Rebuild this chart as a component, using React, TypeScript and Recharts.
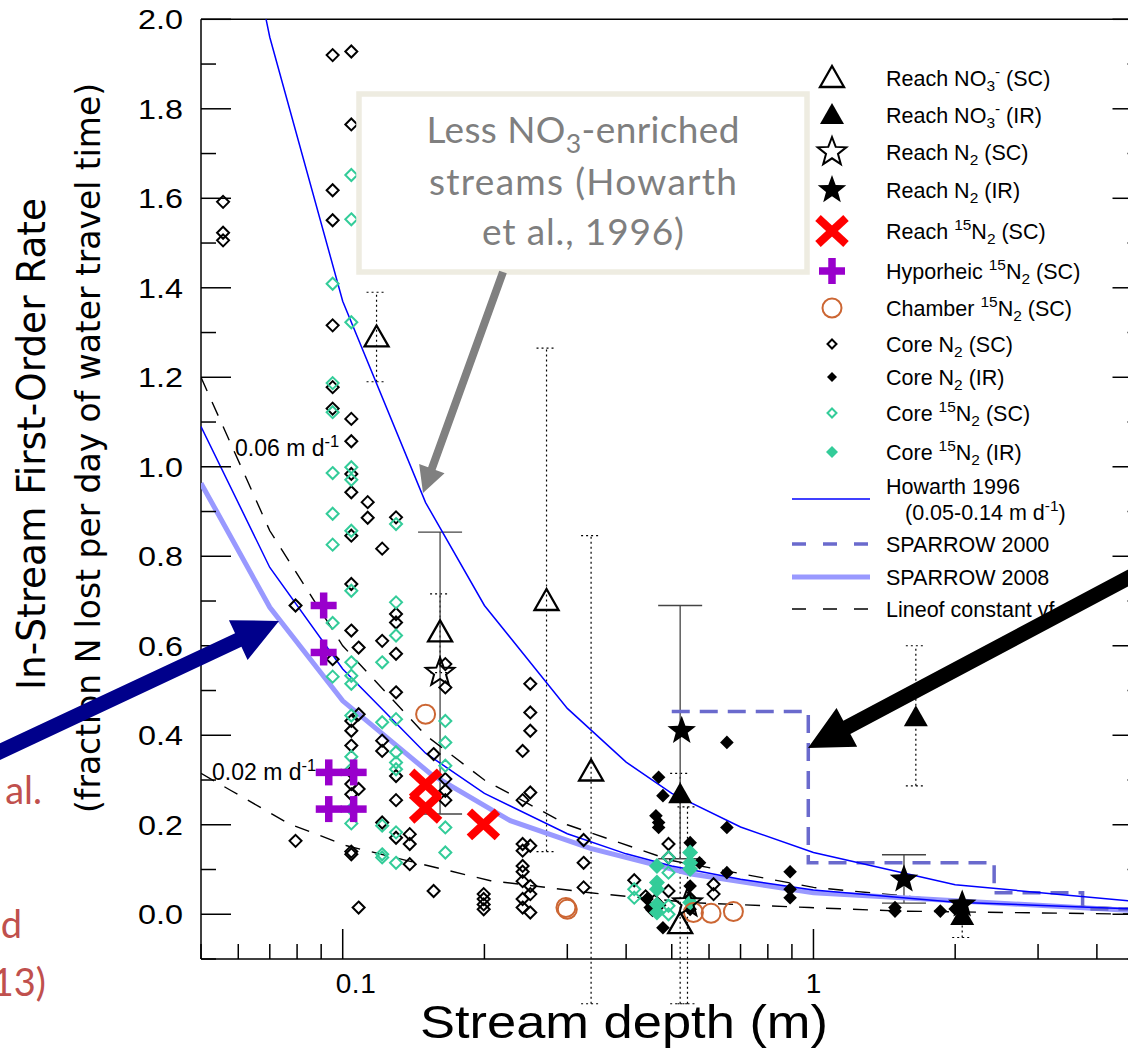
import React from 'react';
import { ComposedChart, Scatter, XAxis, YAxis, ErrorBar } from 'recharts';

type Pt = [number, number];
type Bar = [number, number, number, number]; // depth, value, low, high

// axis ticks
const xTicks = [0.05, 0.06, 0.07, 0.08, 0.09, 0.1, 0.2, 0.3, 0.4, 0.5, 0.6, 0.7, 0.8, 0.9, 1, 2, 3, 4, 5];
const xMajor = [0.1, 1];
const xTickLabels = ['0.1', '1'];
const yTicks = [-0.1, 0, 0.1, 0.2, 0.3, 0.4, 0.5, 0.6, 0.7, 0.8, 0.9, 1.0, 1.1, 1.2, 1.3, 1.4, 1.5, 1.6, 1.7, 1.8, 1.9, 2.0];
const yTickLabels = ['0.0', '0.2', '0.4', '0.6', '0.8', '1.0', '1.2', '1.4', '1.6', '1.8', '2.0'];

// model curves (depth m, rate)
const howarthHigh: Pt[] = [[0.06, 2.3], [0.07, 1.96], [0.1, 1.37], [0.15, 0.92], [0.2, 0.69], [0.3, 0.46], [0.4, 0.34], [0.5, 0.27], [0.7, 0.195], [1, 0.138], [2, 0.066], [5, 0.027]];
const howarthLow: Pt[] = [[0.05, 1.09], [0.07, 0.775], [0.1, 0.548], [0.15, 0.36], [0.2, 0.27], [0.3, 0.18], [0.4, 0.135], [0.5, 0.108], [0.7, 0.078], [1, 0.054], [2, 0.027], [5, 0.011]];
const sparrow2008: Pt[] = [[0.05, 0.963], [0.054, 0.9], [0.07, 0.686], [0.1, 0.477], [0.154, 0.313], [0.227, 0.209], [0.336, 0.147], [0.55, 0.09], [1, 0.048], [5, 0.007]];
const sparrow2000: Pt[] = [[0.5, 0.453], [0.975, 0.453], [0.975, 0.115], [2.42, 0.115], [2.42, 0.048], [3.73, 0.048], [3.73, 0.012], [5, 0.012]];
const vf006: Pt[] = [[0.05, 1.2], [0.07, 0.857], [0.1, 0.6], [0.15, 0.4], [0.2, 0.3], [0.3, 0.2], [0.5, 0.12], [1, 0.06], [2, 0.03], [5, 0.012]];
const vf002: Pt[] = [[0.05, 0.315], [0.058, 0.276], [0.077, 0.202], [0.102, 0.153], [0.137, 0.12], [0.206, 0.075], [0.336, 0.048], [0.547, 0.026], [0.98, 0.015], [1.53, 0.007], [5, 0.0]];

// measurements
const reachNO3SC: Pt[] = [[0.118, 1.289], [0.161, 0.63], [0.271, 0.7], [0.337, 0.319], [0.521, -0.022]];
const reachNO3IR: Pt[] = [[0.521, 0.268], [1.65, 0.44], [2.07, -0.004]];
const reachN2SC: Pt[] = [[0.161, 0.54], [0.54, 0.025]];
const reachN2IR: Pt[] = [[0.525, 0.41], [1.557, 0.078], [2.07, 0.022]];
const reach15N2SC: Pt[] = [[0.15, 0.29], [0.15, 0.238], [0.199, 0.201]];
const hyporheic15N2: Pt[] = [[0.0911, 0.69], [0.0911, 0.585], [0.0934, 0.317], [0.1055, 0.317], [0.0934, 0.235], [0.1055, 0.235]];
const chamber15N2: Pt[] = [[0.15, 0.447], [0.3, 0.011], [0.298, 0.015], [0.556, 0.004], [0.606, 0.002], [0.676, 0.006]];
const coreN2SC: Pt[] = [
  [0.0952, 1.92], [0.1043, 1.928], [0.1043, 1.765], [0.0952, 1.618], [0.0952, 1.551], [0.113, 1.534], [0.0557, 1.592], [0.0557, 1.523], [0.0557, 1.506], [0.0952, 1.316],
  [0.0952, 1.178], [0.0952, 1.13], [0.1043, 1.107], [0.1043, 1.057], [0.1043, 0.984], [0.1043, 0.943], [0.113, 0.921], [0.113, 0.886], [0.1298, 0.887], [0.1043, 0.846],
  [0.1213, 0.817], [0.1043, 0.738], [0.0794, 0.69], [0.1043, 0.634], [0.1298, 0.671], [0.1298, 0.652], [0.1213, 0.611], [0.1081, 0.596], [0.1298, 0.582], [0.0952, 0.57],
  [0.1298, 0.496], [0.1081, 0.447], [0.1043, 0.432], [0.1043, 0.41], [0.1213, 0.388], [0.1043, 0.377], [0.1213, 0.365], [0.156, 0.358], [0.1043, 0.317], [0.1298, 0.309],
  [0.1043, 0.291], [0.1081, 0.28], [0.1043, 0.268], [0.1298, 0.255], [0.1213, 0.205], [0.1298, 0.171], [0.1388, 0.179], [0.1388, 0.157], [0.0794, 0.164], [0.1043, 0.14],
  [0.1043, 0.134], [0.1388, 0.112], [0.156, 0.052], [0.1993, 0.045], [0.1993, 0.034], [0.1993, 0.022], [0.1993, 0.011], [0.1081, 0.015], [0.1652, 0.302], [0.1652, 0.276],
  [0.1652, 0.255], [0.1652, 0.559], [0.1652, 0.507], [0.2503, 0.515], [0.2503, 0.451], [0.2503, 0.41], [0.2411, 0.365], [0.2503, 0.272], [0.2411, 0.255], [0.3249, 0.166],
  [0.3249, 0.115], [0.3249, 0.06], [0.2411, 0.157], [0.2503, 0.153], [0.2411, 0.142], [0.2411, 0.108], [0.2411, 0.095], [0.2411, 0.074], [0.2503, 0.063], [0.2503, 0.045],
  [0.2411, 0.034], [0.2411, 0.015], [0.2503, 0.004], [0.4162, 0.076], [0.4921, 0.157], [0.4921, 0.127], [0.6135, 0.067], [0.6135, 0.045], [0.4921, 0.052], [0.44, 0.04],
  [0.46, 0.03], [0.47, 0.02], [0.455, 0.01],
];
const coreN2IR: Pt[] = [
  [0.4689, 0.306], [0.4789, 0.265], [0.4628, 0.22], [0.4689, 0.205], [0.4689, 0.194], [0.5471, 0.16], [0.5728, 0.115], [0.6548, 0.384], [0.6548, 0.194], [0.6548, 0.093],
  [0.892, 0.095], [0.892, 0.056], [0.892, 0.037], [0.443, 0.034], [0.45, 0.015], [0.4789, -0.03], [0.5471, 0.063], [0.5471, 0.037], [0.5471, 0.011], [1.49, 0.015],
  [1.49, 0.007], [1.86, 0.007], [2.0, 0.012],
];
const core15N2SC: Pt[] = [
  [0.1043, 1.652], [0.1043, 1.553], [0.0952, 1.409], [0.1043, 1.323], [0.0952, 1.187], [0.0952, 1.122], [0.1043, 0.999], [0.1043, 0.971], [0.0952, 0.986], [0.0952, 0.895],
  [0.1043, 0.857], [0.1298, 0.872], [0.0952, 0.826], [0.1043, 0.723], [0.1298, 0.697], [0.0952, 0.651], [0.1298, 0.623], [0.1043, 0.563], [0.0952, 0.531], [0.1043, 0.533],
  [0.1043, 0.515], [0.1213, 0.563], [0.1043, 0.444], [0.1213, 0.429], [0.1298, 0.436], [0.1298, 0.362], [0.1298, 0.339], [0.1298, 0.324], [0.1043, 0.352], [0.1043, 0.324],
  [0.1043, 0.235], [0.1043, 0.203], [0.1213, 0.198], [0.1298, 0.183], [0.1213, 0.134], [0.1213, 0.127], [0.1298, 0.115], [0.1652, 0.432], [0.1652, 0.384], [0.1652, 0.332],
  [0.1652, 0.194], [0.1652, 0.138], [0.4162, 0.056], [0.4162, 0.037], [0.4921, 0.127], [0.4921, 0.093], [0.4921, 0.019], [0.4921, 0.0],
];
const core15N2IR: Pt[] = [[0.465, 0.108], [0.465, 0.071], [0.465, 0.056], [0.465, 0.022], [0.465, 0.004], [0.547, 0.138], [0.547, 0.115], [0.547, 0.101], [0.547, 0.026]];

// error bars
const dottedBars: Bar[] = [[0.118, 1.289, 1.19, 1.39], [0.161, 0.63, 0.54, 0.716], [0.271, 0.7, 0.14, 1.265], [0.337, 0.319, -0.2, 0.846], [0.521, -0.022, -0.2, 0.315], [0.54, 0.025, -0.2, 0.24], [1.65, 0.44, 0.287, 0.6], [2.07, -0.004, -0.052, 0.03]];
const solidBars: Bar[] = [[0.161, 0.54, 0.224, 0.854], [0.521, 0.268, 0.124, 0.69], [1.557, 0.078, 0.025, 0.133]];

const xy = (a: Pt[]) => a.map(([x, y]) => ({ x, y }));
const bars = (a: Bar[]) => a.map(([x, y, lo, hi]) => ({ x, y, err: [y - lo, hi - y] }));

const GREEN = '#33cc99';
const PURPLE = '#9900cc';
const ORANGE = '#cc6633';

// marker drawing
const triPath = (cx: number, cy: number) => `M${cx},${cy - 12}L${cx + 12},${cy + 9}L${cx - 12},${cy + 9}Z`;
const starPath = (cx: number, cy: number, R: number) => {
  let d = '';
  for (let i = 0; i < 10; i++) {
    const a = -Math.PI / 2 + (i * Math.PI) / 5;
    const rad = i % 2 === 0 ? R : R * 0.42;
    d += (i === 0 ? 'M' : 'L') + (cx + rad * Math.cos(a)).toFixed(2) + ',' + (cy + rad * Math.sin(a)).toFixed(2);
  }
  return d + 'Z';
};
const dia = (cx: number, cy: number, r: number) => `M${cx},${cy - r}L${cx + r},${cy}L${cx},${cy + r}L${cx - r},${cy}Z`;

const mk = {
  openTri: (cx: number, cy: number) => <path d={triPath(cx, cy)} fill="none" stroke="#000" strokeWidth={2.3} />,
  fillTri: (cx: number, cy: number) => <path d={triPath(cx, cy)} fill="#000" />,
  openStar: (cx: number, cy: number) => <path d={starPath(cx, cy, 15)} fill="none" stroke="#000" strokeWidth={2} />,
  fillStar: (cx: number, cy: number) => <path d={starPath(cx, cy, 15)} fill="#000" />,
  redX: (cx: number, cy: number) => (
    <g stroke="#ff0000" strokeWidth={8}>
      <line x1={cx - 14} y1={cy - 13} x2={cx + 14} y2={cy + 13} />
      <line x1={cx - 14} y1={cy + 13} x2={cx + 14} y2={cy - 13} />
    </g>
  ),
  plus: (cx: number, cy: number) => (
    <g stroke={PURPLE} strokeWidth={7.5}>
      <line x1={cx - 13} y1={cy} x2={cx + 13} y2={cy} />
      <line x1={cx} y1={cy - 13} x2={cx} y2={cy + 13} />
    </g>
  ),
  circle: (cx: number, cy: number) => <circle cx={cx} cy={cy} r={9.5} fill="none" stroke={ORANGE} strokeWidth={2} />,
  openDia: (cx: number, cy: number, r = 6) => <path d={dia(cx, cy, r)} fill="none" stroke="#000" strokeWidth={2} />,
  fillDia: (cx: number, cy: number, r = 6.8) => <path d={dia(cx, cy, r)} fill="#000" />,
  openGreen: (cx: number, cy: number, r = 6) => <path d={dia(cx, cy, r)} fill="none" stroke={GREEN} strokeWidth={2} />,
  fillGreen: (cx: number, cy: number, r = 8) => <path d={dia(cx, cy, r)} fill={GREEN} />,
};

const shapeOf = (f: (cx: number, cy: number) => React.ReactNode) => (p: any) => <g>{f(p.cx, p.cy)}</g>;
const noShape = () => <g />;

// axis ticks drawn inward
const BottomTick = (p: any) => {
  const v = p.payload.value as number;
  const i = xMajor.indexOf(v);
  return (
    <g>
      <line x1={p.x} x2={p.x} y1={p.y} y2={p.y - (i >= 0 ? 30 : 15)} stroke="#000" strokeWidth={1.5} />
      {i >= 0 && (
        <text x={p.x + (i === 0 ? 13 : 0)} y={p.y + 34} textAnchor="middle" fontSize={28} fill="#000" textLength={i === 0 ? 40 : undefined}>
          {xTickLabels[i]}
        </text>
      )}
    </g>
  );
};
const TopTick = (p: any) => {
  const major = xMajor.indexOf(p.payload.value) >= 0;
  return <line x1={p.x} x2={p.x} y1={p.y} y2={p.y + (major ? 30 : 15)} stroke="#000" strokeWidth={1.5} />;
};
const isMajorY = (v: number) => Math.round(v * 10) % 2 === 0;
const LeftTick = (p: any) => {
  const v = p.payload.value as number;
  const lab = yTickLabels.find((l) => Math.abs(parseFloat(l) - v) < 1e-6);
  return (
    <g>
      <line x1={p.x} x2={p.x + (isMajorY(v) ? 30 : 15)} y1={p.y} y2={p.y} stroke="#000" strokeWidth={1.5} />
      {lab && (
        <text x={p.x - 18} y={p.y + 10} textAnchor="end" fontSize={28} fill="#000" textLength={45} lengthAdjust="spacingAndGlyphs">
          {lab}
        </text>
      )}
    </g>
  );
};
const RightTick = (p: any) => {
  const v = p.payload.value as number;
  return <line x1={p.x} x2={p.x - (isMajorY(v) ? 30 : 15)} y1={p.y} y2={p.y} stroke="#000" strokeWidth={1.5} />;
};

// rich text with sub/superscripts
type Seg = [string, 'n' | 'b' | 'p'];
function Rich({ x, y, fs, segs, ...rest }: { x: number; y: number; fs: number; segs: Seg[]; [k: string]: any }) {
  let cur = 0;
  return (
    <text x={x} y={y} fontSize={fs} style={{ whiteSpace: 'pre' }} {...rest}>
      {segs.map(([t, k], i) => {
        const target = k === 'b' ? fs * 0.26 : k === 'p' ? -fs * 0.4 : 0;
        const dy = target - cur;
        cur = target;
        return (
          <tspan key={i} dy={dy} fontSize={k === 'n' ? fs : fs * 0.72}>
            {t}
          </tspan>
        );
      })}
    </text>
  );
}

function Arrow({ x1, y1, x2, y2, w, hl, hw, color }: { x1: number; y1: number; x2: number; y2: number; w: number; hl: number; hw: number; color: string }) {
  const L = Math.hypot(x2 - x1, y2 - y1);
  const ux = (x2 - x1) / L;
  const uy = (y2 - y1) / L;
  const px = -uy;
  const py = ux;
  const bx = x2 - ux * hl;
  const by = y2 - uy * hl;
  const pts = [
    [x1 + (px * w) / 2, y1 + (py * w) / 2],
    [bx + (px * w) / 2, by + (py * w) / 2],
    [bx + (px * hw) / 2, by + (py * hw) / 2],
    [x2, y2],
    [bx - (px * hw) / 2, by - (py * hw) / 2],
    [bx - (px * w) / 2, by - (py * w) / 2],
    [x1 - (px * w) / 2, y1 - (py * w) / 2],
  ];
  return <polygon points={pts.map((q) => q.join(',')).join(' ')} fill={color} />;
}

const legendRows: { y: number; draw: (cx: number, cy: number) => React.ReactNode; segs: Seg[] }[] = [
  { y: 78, draw: mk.openTri, segs: [['Reach NO', 'n'], ['3', 'b'], ['-', 'p'], [' (SC)', 'n']] },
  { y: 115, draw: mk.fillTri, segs: [['Reach NO', 'n'], ['3', 'b'], ['-', 'p'], [' (IR)', 'n']] },
  { y: 152, draw: mk.openStar, segs: [['Reach N', 'n'], ['2', 'b'], [' (SC)', 'n']] },
  { y: 190, draw: mk.fillStar, segs: [['Reach N', 'n'], ['2', 'b'], [' (IR)', 'n']] },
  { y: 231, draw: mk.redX, segs: [['Reach ', 'n'], ['15', 'p'], ['N', 'n'], ['2', 'b'], [' (SC)', 'n']] },
  { y: 271, draw: mk.plus, segs: [['Hyporheic ', 'n'], ['15', 'p'], ['N', 'n'], ['2', 'b'], [' (SC)', 'n']] },
  { y: 308, draw: mk.circle, segs: [['Chamber ', 'n'], ['15', 'p'], ['N', 'n'], ['2', 'b'], [' (SC)', 'n']] },
  { y: 344, draw: (cx, cy) => mk.openDia(cx, cy, 4.5), segs: [['Core N', 'n'], ['2', 'b'], [' (SC)', 'n']] },
  { y: 377, draw: (cx, cy) => mk.fillDia(cx, cy, 5), segs: [['Core N', 'n'], ['2', 'b'], [' (IR)', 'n']] },
  { y: 413, draw: (cx, cy) => mk.openGreen(cx, cy, 4.5), segs: [['Core ', 'n'], ['15', 'p'], ['N', 'n'], ['2', 'b'], [' (SC)', 'n']] },
  { y: 452, draw: (cx, cy) => mk.fillGreen(cx, cy, 6), segs: [['Core ', 'n'], ['15', 'p'], ['N', 'n'], ['2', 'b'], [' (IR)', 'n']] },
];

const sc = { xAxisId: 'b', yAxisId: 'l', isAnimationActive: false } as const;

export default function App() {
  return (
    <div
      style={{
        position: 'fixed',
        left: 0,
        top: 0,
        width: 1128,
        height: 1052,
        overflow: 'hidden',
        background: '#fff',
        fontFamily: '"Liberation Sans", Arial, sans-serif',
      }}
    >
      <ComposedChart width={1170} height={1052} margin={{ top: 0, right: 7.5, bottom: 0, left: 0 }}>
        <XAxis xAxisId="b" dataKey="x" type="number" scale="log" domain={[0.05, 5]} allowDataOverflow ticks={xTicks} interval={0}
          height={93} tickSize={0} tickMargin={0} tickLine={false} tick={BottomTick} axisLine={{ stroke: '#000', strokeWidth: 1.5 }} />
        <XAxis xAxisId="t" orientation="top" type="number" scale="log" domain={[0.05, 5]} allowDataOverflow ticks={xTicks} interval={0}
          height={19.3} tickSize={0} tickMargin={0} tickLine={false} tick={TopTick} axisLine={{ stroke: '#000', strokeWidth: 1.5 }} />
        <YAxis yAxisId="l" dataKey="y" type="number" domain={[-0.1, 2.0]} allowDataOverflow ticks={yTicks} interval={0}
          width={201} tickSize={0} tickMargin={0} tickLine={false} tick={LeftTick} axisLine={{ stroke: '#000', strokeWidth: 1.5 }} />
        <YAxis yAxisId="r" orientation="right" type="number" domain={[-0.1, 2.0]} allowDataOverflow ticks={yTicks} interval={0}
          width={20} tickSize={0} tickMargin={0} tickLine={false} tick={RightTick} axisLine={{ stroke: '#000', strokeWidth: 1.5 }} />

        <Scatter {...sc} data={xy(vf006)} fill="none" shape={noShape} line={{ stroke: '#000', strokeWidth: 1.4, strokeDasharray: '15 12' }} />
        <Scatter {...sc} data={xy(vf002)} fill="none" shape={noShape} line={{ stroke: '#000', strokeWidth: 1.4, strokeDasharray: '15 12' }} />
        <Scatter {...sc} data={xy(sparrow2008)} fill="none" shape={noShape} line={{ stroke: '#9999ff', strokeWidth: 5 }} />
        <Scatter {...sc} data={xy(sparrow2000)} fill="none" shape={noShape} line={{ stroke: '#6a6acd', strokeWidth: 3.5, strokeDasharray: '18 10' }} />
        <Scatter {...sc} data={xy(howarthHigh)} fill="none" shape={noShape} line={{ stroke: '#0000ff', strokeWidth: 1.5 }} />
        <Scatter {...sc} data={xy(howarthLow)} fill="none" shape={noShape} line={{ stroke: '#0000ff', strokeWidth: 1.5 }} />

        <Scatter {...sc} data={bars(dottedBars)} shape={noShape}>
          <ErrorBar dataKey="err" direction="y" width={10} stroke="#000" strokeWidth={1.2} strokeDasharray="2 3" />
        </Scatter>
        <Scatter {...sc} data={bars(solidBars)} shape={noShape}>
          <ErrorBar dataKey="err" direction="y" width={22} stroke="#444" strokeWidth={1.3} />
        </Scatter>

        <Scatter {...sc} data={xy(coreN2SC)} shape={shapeOf((x, y) => mk.openDia(x, y))} />
        <Scatter {...sc} data={xy(core15N2SC)} shape={shapeOf((x, y) => mk.openGreen(x, y))} />
        <Scatter {...sc} data={xy(coreN2IR)} shape={shapeOf((x, y) => mk.fillDia(x, y))} />
        <Scatter {...sc} data={xy(core15N2IR)} shape={shapeOf((x, y) => mk.fillGreen(x, y))} />
        <Scatter {...sc} data={xy(chamber15N2)} shape={shapeOf(mk.circle)} />
        <Scatter {...sc} data={xy(reachNO3SC)} shape={shapeOf(mk.openTri)} />
        <Scatter {...sc} data={xy(reachNO3IR)} shape={shapeOf(mk.fillTri)} />
        <Scatter {...sc} data={xy(reachN2SC)} shape={shapeOf(mk.openStar)} />
        <Scatter {...sc} data={xy(reachN2IR)} shape={shapeOf(mk.fillStar)} />
        <Scatter {...sc} data={xy(hyporheic15N2)} shape={shapeOf(mk.plus)} />
        <Scatter {...sc} data={xy(reach15N2SC)} shape={shapeOf(mk.redX)} />
      </ComposedChart>

      <svg width={1128} height={1052} style={{ position: 'absolute', left: 0, top: 0, pointerEvents: 'none' }}>
        {/* line labels */}
        <Rich x={235} y={456} fs={23} fill="#000" segs={[['0.06 m d', 'n'], ['-1', 'p']]} />
        <Rich x={212} y={780} fs={23} fill="#000" segs={[['0.02 m d', 'n'], ['-1', 'p']]} />

        {/* annotation box */}
        <rect x={359} y={94} width={448} height={178} fill="#fff" stroke="#eeece1" strokeWidth={5.5} />
        <g fontFamily="Lato, 'Open Sans', sans-serif" fill="#7f7f7f" textAnchor="middle">
          <Rich x={583} y={143} fs={37} textLength={313} textAnchor="middle" segs={[['Less NO', 'n'], ['3', 'b'], ['-enriched', 'n']]} />
          <text x={583} y={195} fontSize={37} textLength={308}>streams (Howarth</text>
          <text x={583} y={245} fontSize={37} textLength={202}>et al., 1996)</text>
        </g>
        <Arrow x1={503} y1={272} x2={423} y2={493} w={8} hl={26} hw={27} color="#808080" />

        {/* legend */}
        <g fill="#000">
          {legendRows.map((r, i) => (
            <g key={i}>
              {r.draw(832, r.y)}
              <Rich x={886} y={r.y + 7.5} fs={21.5} segs={r.segs} />
            </g>
          ))}
          <line x1={792} x2={870} y1={499} y2={499} stroke="#0000ff" strokeWidth={1.5} />
          <text x={886} y={494} fontSize={21.5}>Howarth 1996</text>
          <Rich x={905} y={520} fs={21.5} segs={[['(0.05-0.14 m d', 'n'], ['-1', 'p'], [')', 'n']]} />
          <line x1={792} x2={870} y1={544} y2={544} stroke="#6a6acd" strokeWidth={3.5} strokeDasharray="14 17" />
          <text x={886} y={551.5} fontSize={21.5}>SPARROW 2000</text>
          <line x1={792} x2={870} y1={577} y2={577} stroke="#9999ff" strokeWidth={5} />
          <text x={886} y={584.5} fontSize={21.5}>SPARROW 2008</text>
          <line x1={792} x2={870} y1={609} y2={609} stroke="#000" strokeWidth={1.5} strokeDasharray="14 17" />
          <text x={886} y={616.5} fontSize={21.5}>Lineof constant vf</text>
        </g>

        {/* axis titles */}
        <text x={624} y={1038} fontSize={46} textAnchor="middle" textLength={408} lengthAdjust="spacingAndGlyphs" fill="#000">
          Stream depth (m)
        </text>
        <text transform="translate(45,444) rotate(-90)" fontSize={39} textAnchor="middle" textLength={492} lengthAdjust="spacingAndGlyphs"
          fontFamily="'Liberation Sans Narrow', 'DejaVu Sans Condensed', sans-serif" fill="#000">
          In-Stream First-Order Rate
        </text>
        <text transform="translate(100,448) rotate(-90)" fontSize={33} textAnchor="middle" textLength={730} lengthAdjust="spacingAndGlyphs"
          fontFamily="'Liberation Sans Narrow', 'DejaVu Sans Condensed', sans-serif" fill="#000">
          (fraction N lost per day of water travel time)
        </text>

        {/* cut-off annotation text on the left */}
        <g fontFamily="Lato, 'Open Sans', sans-serif" fontSize={38} fill="#c0504d" textAnchor="end">
          <text x={42} y={804}>al.</text>
          <text x={22} y={938}>d</text>
          <text x={46} y={996}>13)</text>
        </g>

        {/* arrows */}
        <Arrow x1={-20} y1={761} x2={279} y2={621} w={15} hl={45} hw={44} color="#00008b" />
        <Arrow x1={1160} y1={561} x2={808} y2={748} w={15} hl={44} hw={44} color="#000" />
      </svg>
    </div>
  );
}
